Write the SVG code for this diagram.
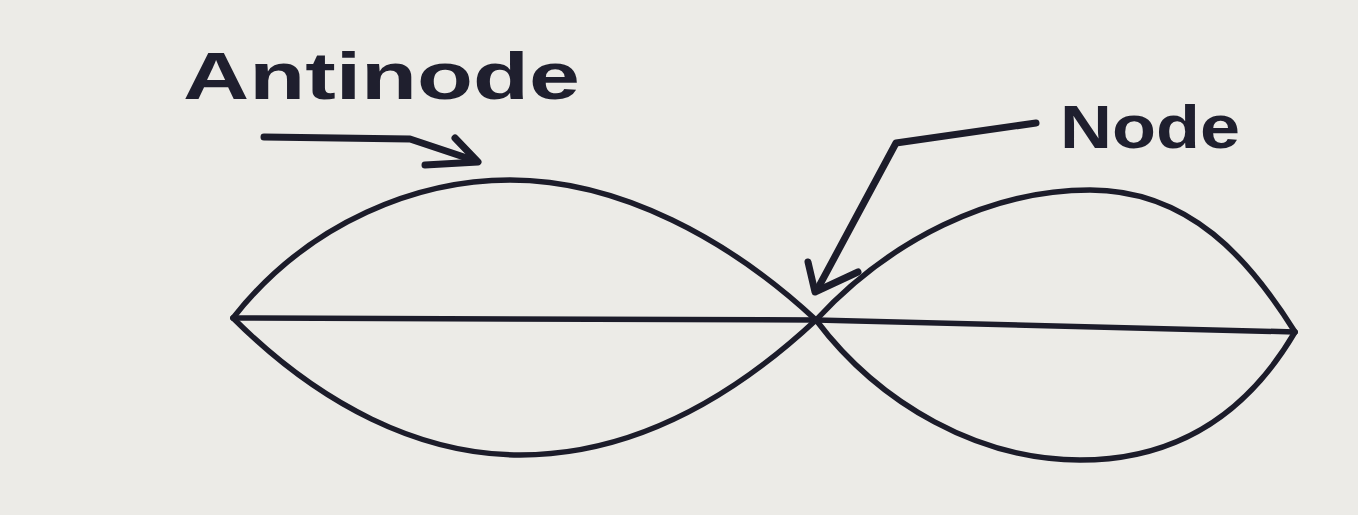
<svg xmlns="http://www.w3.org/2000/svg" width="1358" height="515" viewBox="0 0 1358 515">
<style>
.ln{fill:none;stroke:#1c1c2a;stroke-width:5.5;stroke-linecap:round;stroke-linejoin:round}
.ar{fill:none;stroke:#1c1c2a;stroke-width:7;stroke-linecap:round;stroke-linejoin:round}
.lbl{font-family:"Liberation Sans",Arial,sans-serif;font-weight:bold;fill:#1f1f2e}
</style>
<rect width="1358" height="515" fill="#ecebe7"/>
<g id="wave">
<path class="ln" d="M233,318 L816,320 L1295,332"/>
<path class="ln" d="M233,318 C310,220 420,180 510,180 C620,180 730,240 816,320"/>
<path class="ln" d="M233,318 C320,405 420,455 520,455 C630,455 730,400 816,320"/>
<path class="ln" d="M816,320 C890,240 990,190 1090,190 C1190,190 1250,260 1295,332"/>
<path class="ln" d="M816,320 C880,405 980,460 1080,460 C1190,460 1255,400 1295,332"/>
</g>
<g id="antinode">
<text class="lbl" x="183" y="99" font-size="66" textLength="397" lengthAdjust="spacingAndGlyphs">Antinode</text>
</g>
<g id="node">
<text class="lbl" x="1060" y="148" font-size="62" textLength="180" lengthAdjust="spacingAndGlyphs">Node</text>
</g>
<g id="connectors">
<path class="ar" d="M264,137 L410,139 L476,161"/>
<path class="ar" d="M455,138 L478,162 L425,165"/>
<path class="ar" d="M1036,123 L896,143 L817,290"/>
<path class="ar" d="M808,262 L815,292 L858,272"/>
</g>
</svg>
